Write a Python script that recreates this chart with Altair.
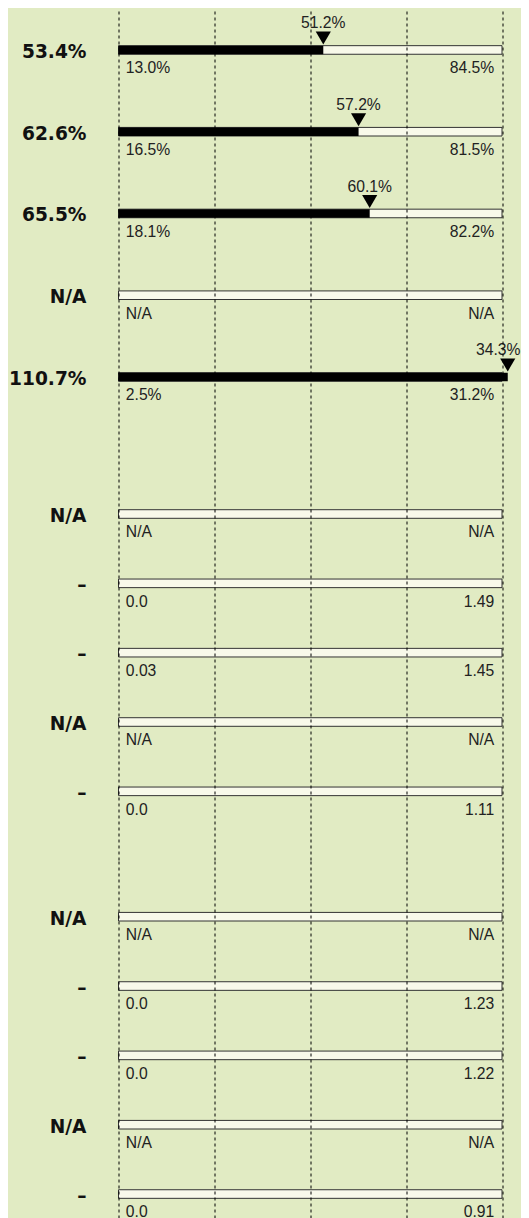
import altair as alt
import pandas as pd

# ---- data ----
g1_labels = ["53.4%", "62.6%", "65.5%", "N/A", "110.7%"]
g1_values = [53.4, 62.6, 65.5, None, 110.7]
g1_markers = ["51.2%", "57.2%", "60.1%", None, "34.3%"]
g1_low = ["13.0%", "16.5%", "18.1%", "N/A", "2.5%"]
g1_high = ["84.5%", "81.5%", "82.2%", "N/A", "31.2%"]

g2_labels = ["N/A", "–", "–", "N/A", "–"]
g2_low = ["N/A", "0.0", "0.03", "N/A", "0.0"]
g2_high = ["N/A", "1.49", "1.45", "N/A", "1.11"]

g3_labels = ["N/A", "–", "–", "N/A", "–"]
g3_low = ["N/A", "0.0", "0.0", "N/A", "0.0"]
g3_high = ["N/A", "1.23", "1.22", "N/A", "0.91"]

empty = [None] * 5
groups = [
    (g1_labels, g1_values, g1_markers, g1_low, g1_high),
    (g2_labels, empty, empty, g2_low, g2_high),
    (g3_labels, empty, empty, g3_low, g3_high),
]

records = []
for g, (labels, values, markers, lows, highs) in enumerate(groups):
    for i, lab in enumerate(labels):
        records.append(dict(group=g, row=i, label=lab, value=values[i],
                            marker=markers[i], low=lows[i], high=highs[i]))
df = pd.DataFrame(records)

BG = "#e1ebc3"
TRACK = "#f8f9ea"
SMALL_FONT = "Liberation Sans"
BIG_FONT = "DejaVu Sans"
PLOT_W = 383.5
LEFT_PAD = 110.5
PAGE_W = 513
PANEL_H = [438, 414, 358]

xaxis = alt.Axis(grid=True, gridDash=[3, 3], gridColor="#000000", gridWidth=1,
                 labels=False, ticks=False, domain=False, title=None,
                 values=[0, 25, 50, 75, 100], zindex=1)


def panel(g, height, pad, align):
    base = (alt.Chart(df)
            .transform_filter(f"datum.group == {g}")
            .transform_calculate(t0="0", t1="100",
                                 vclip="min(datum.value, 101.5)",
                                 lclip="min(datum.value, 99)"))
    y = alt.Y("row:O", axis=None,
              scale=alt.Scale(type="point", padding=pad, align=align))
    x = alt.X("t0:Q", scale=alt.Scale(domain=[0, 100]), axis=xaxis)

    track = base.mark_bar(height=8.6, fill=TRACK, stroke="#333333",
                          strokeWidth=1).encode(x=x, x2="t1:Q", y=y)
    fill = (base.transform_filter("isValid(datum.value)")
            .mark_bar(height=8.6, color="#000000")
            .encode(x="t0:Q", x2="vclip:Q", y=y))
    tri = (base.transform_filter("isValid(datum.value)")
           .mark_point(shape="triangle-down", filled=True, size=230,
                       color="#000000", opacity=1, yOffset=-12)
           .encode(x="vclip:Q", y=y))
    mtext = (base.transform_filter("isValid(datum.value)")
             .mark_text(dy=-21.7, baseline="alphabetic", align="center",
                        font=SMALL_FONT, fontSize=15.7, color="#222222")
             .encode(x="lclip:Q", y=y, text="marker:N"))
    left = (base.mark_text(dx=-32, dy=7.8, baseline="alphabetic", align="right",
                           font=BIG_FONT, fontSize=18.6, fontWeight="bold",
                           color="#111111")
            .encode(x="t0:Q", y=y, text="label:N"))
    low = (base.mark_text(dx=7.3, dy=23.3, baseline="alphabetic", align="left",
                          font=SMALL_FONT, fontSize=15.7, color="#222222")
           .encode(x="t0:Q", y=y, text="low:N"))
    high = (base.mark_text(dx=-7.7, dy=23.3, baseline="alphabetic", align="right",
                           font=SMALL_FONT, fontSize=15.7, color="#222222")
            .encode(x="t1:Q", y=y, text="high:N"))
    return alt.layer(track, fill, tri, mtext, left, low, high).properties(
        width=PLOT_W, height=height)


p1 = panel(0, PANEL_H[0], 0.6789, 0.378)
p2 = panel(1, PANEL_H[1], 0.9856, 0.4976)
p3 = panel(2, PANEL_H[2], 0.5818, 0.703)

chart = (alt.vconcat(p1, p2, p3, spacing=0, bounds="flush")
         .properties(autosize=alt.AutoSizeParams(type="none"),
                     padding={"left": LEFT_PAD, "top": 0,
                              "right": PAGE_W - LEFT_PAD - PLOT_W,
                              "bottom": sum(PANEL_H)},
                     background=BG)
         .configure_view(strokeWidth=0))

chart.save("out.html", embed_options={"renderer": "svg", "actions": False})
